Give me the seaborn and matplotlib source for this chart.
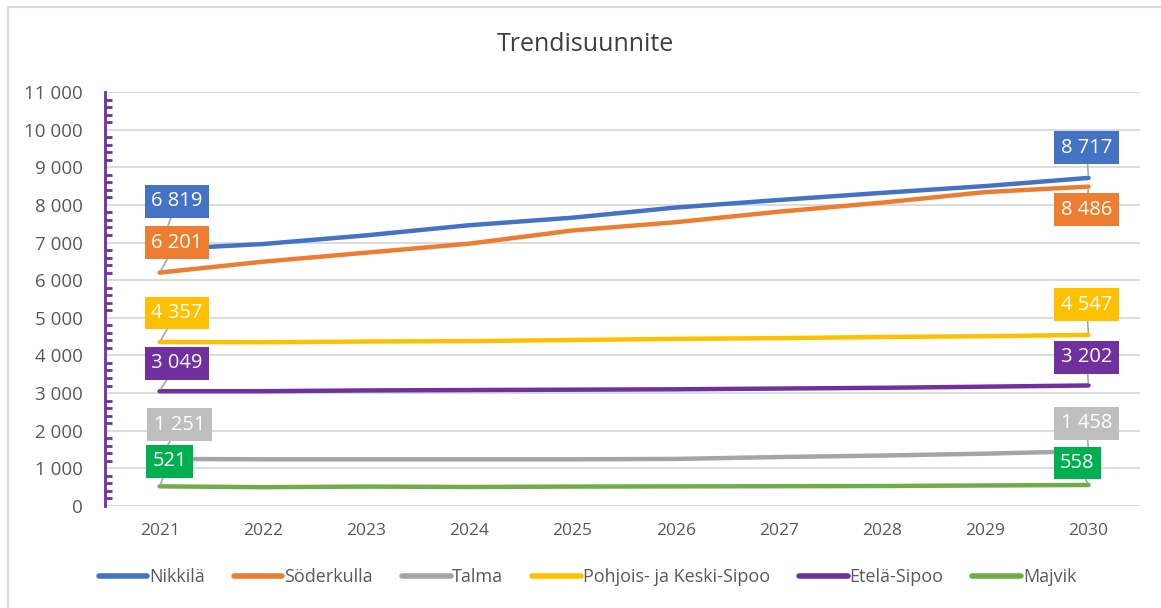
import pandas as pd
import numpy as np
import matplotlib.pyplot as plt
import matplotlib.ticker as mticker
from matplotlib.lines import Line2D
import seaborn as sns

# --- data
years = [2021, 2022, 2023, 2024, 2025, 2026, 2027, 2028, 2029, 2030]
nikkila = [6819, 6960, 7190, 7460, 7660, 7930, 8130, 8320, 8500, 8717]
soderkulla = [6201, 6490, 6730, 6970, 7320, 7540, 7820, 8060, 8340, 8486]
talma = [1251, 1240, 1240, 1240, 1240, 1250, 1300, 1340, 1390, 1458]
pohjois = [4357, 4350, 4370, 4380, 4410, 4440, 4460, 4490, 4510, 4547]
etela = [3049, 3050, 3070, 3080, 3090, 3100, 3120, 3140, 3170, 3202]
majvik = [521, 500, 515, 505, 515, 520, 525, 530, 545, 558]

names = ["Nikkilä", "Söderkulla", "Talma", "Pohjois- ja Keski-Sipoo", "Etelä-Sipoo", "Majvik"]
series = [nikkila, soderkulla, talma, pohjois, etela, majvik]
line_colors = ["#4472C4", "#ED7D31", "#A5A5A5", "#FFC000", "#7030A0", "#70AD47"]
box_colors = ["#4472C4", "#ED7D31", "#BFBFBF", "#FFC000", "#7030A0", "#00B050"]

# label offsets in pixels (start, end)
left_off = [(17, 48), (17, 30), (20, 34), (17, 29), (17, 28), (10, 25)]
right_off = [(-2, 30), (-2, -23), (-2, 28), (-2, 30), (-2, 28), (-11, 22)]

df = pd.DataFrame({
    "Vuosi": np.tile(years, len(names)),
    "Alue": np.repeat(names, len(years)),
    "Asukkaat": np.concatenate(series),
})

sns.set_theme(style="white")
plt.rcParams["font.family"] = ["Open Sans", "DejaVu Sans"]

fig = plt.figure(figsize=(11.61, 6.08), dpi=100)
ax = fig.add_axes([0.0904, 0.1678, 0.8916, 0.6809])

sns.lineplot(data=df, x="Vuosi", y="Asukkaat", hue="Alue", hue_order=names,
             palette=dict(zip(names, line_colors)), linewidth=3.2, ax=ax,
             legend=False, solid_capstyle="round")

ax.set_xlim(2020.47, 2030.5)
ax.set_ylim(0, 11000)
ax.set_xticks(years)
ax.yaxis.set_major_locator(mticker.MultipleLocator(1000))
ax.yaxis.set_minor_locator(mticker.MultipleLocator(200))
ax.yaxis.set_major_formatter(mticker.FuncFormatter(lambda v, p: f"{int(v):,}".replace(",", " ")))
ax.grid(axis="y", color="#D9D9D9", linewidth=1.3)
ax.set_axisbelow(True)
ax.set_xlabel("")
ax.set_ylabel("")

for s in ["top", "right", "bottom"]:
    ax.spines[s].set_visible(False)
ax.spines["left"].set_color("#7030A0")
ax.spines["left"].set_linewidth(2)
ax.tick_params(axis="y", which="major", direction="inout", length=12, width=2,
               color="#7030A0", labelsize=13.5, labelcolor="#595959", pad=10)
ax.tick_params(axis="y", which="minor", direction="in", length=5, width=2,
               color="#7030A0", left=True)
ax.tick_params(axis="x", length=0, labelsize=12.5, labelcolor="#595959", pad=12)

def fmt(v):
    return f"{v:,}".replace(",", " ")

for vals, bc, lo, ro in zip(series, box_colors, left_off, right_off):
    for xv, yv, off in [(years[0], vals[0], lo), (years[-1], vals[-1], ro)]:
        ax.annotate(fmt(yv), xy=(xv, yv), xytext=off, textcoords="offset pixels",
                    ha="center", va="center", fontsize=14.5, color="white",
                    bbox=dict(boxstyle="square,pad=0.32", fc=bc, ec="none"),
                    arrowprops=dict(arrowstyle="-", color="#A6A6A6", lw=1.2,
                                    shrinkA=0, shrinkB=2))

fig.text(0.504, 0.926, "Trendisuunnite", ha="center", va="center",
         fontsize=18, color="#404040")

handles = [Line2D([], [], color=c, linewidth=4, solid_capstyle="round") for c in line_colors]
fig.legend(handles, names, loc="center", bbox_to_anchor=(0.506, 0.051), ncol=6,
           frameon=False, fontsize=13, labelcolor="#595959", handlelength=2.7,
           handletextpad=0.1, columnspacing=1.6)

# chart area border (left and top visible)
fig.add_artist(Line2D([0.007, 0.007], [0, 0.989], transform=fig.transFigure, color="#D9D9D9", lw=1.5))
fig.add_artist(Line2D([0.007, 1.0], [0.989, 0.989], transform=fig.transFigure, color="#D9D9D9", lw=1.5))

fig.savefig("out.png", dpi=100)
